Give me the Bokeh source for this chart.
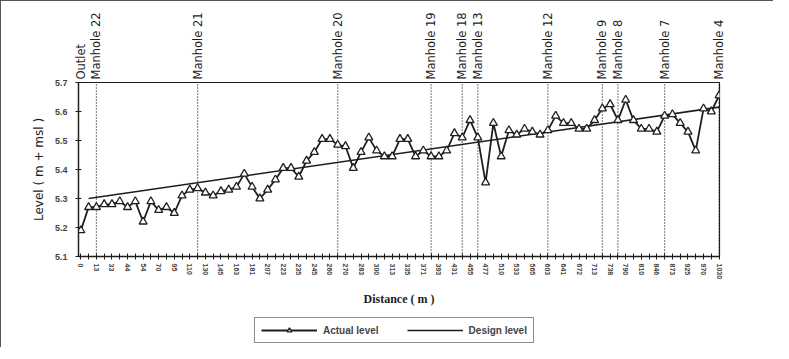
from bokeh.plotting import figure
from bokeh.layouts import column
from bokeh.models import (ColumnDataSource, Range1d, FixedTicker, Legend, LegendItem,
                          LinearAxis)
from bokeh.embed import file_html
from bokeh.resources import INLINE

# ---- data ----
actual_level = [5.19, 5.27, 5.27, 5.28, 5.28, 5.29, 5.27, 5.29, 5.22, 5.29,
                5.26, 5.27, 5.25, 5.31, 5.33, 5.335, 5.32, 5.31, 5.325, 5.33,
                5.34, 5.385, 5.34, 5.30, 5.33, 5.365, 5.405, 5.405, 5.375, 5.43,
                5.46, 5.505, 5.505, 5.485, 5.48, 5.405, 5.46, 5.51, 5.465, 5.445,
                5.445, 5.505, 5.505, 5.445, 5.465, 5.445, 5.445, 5.465, 5.525, 5.51,
                5.57, 5.51, 5.355, 5.56, 5.445, 5.535, 5.52, 5.54, 5.53, 5.52,
                5.535, 5.585, 5.56, 5.56, 5.54, 5.54, 5.57, 5.61, 5.625, 5.57,
                5.64, 5.57, 5.54, 5.54, 5.53, 5.585, 5.59, 5.56, 5.53, 5.465,
                5.61, 5.60, 5.655]
point_index = list(range(len(actual_level)))

# distance tick labels (shown at every second point)
distance_labels = ["0", "13", "33", "44", "54", "70", "95", "110", "130", "145",
                   "163", "181", "207", "223", "235", "245", "260", "270", "283", "300",
                   "313", "335", "371", "393", "431", "455", "477", "510", "533", "565",
                   "603", "641", "672", "713", "738", "790", "810", "846", "873", "925",
                   "970", "1030"]

design_index = [1, 82]
design_level = [5.30, 5.615]

manhole_names = ["Manhole 22", "Manhole 21", "Manhole 20", "Manhole 19", "Manhole 18",
                 "Manhole 13", "Manhole 12", "Manhole 9", "Manhole 8", "Manhole 7",
                 "Manhole 4"]
manhole_index = [2, 15, 33, 45, 49, 51, 60, 67, 69, 75, 82]
outlet_name = "Outlet"
outlet_index = 0

y_ticks = [5.1, 5.2, 5.3, 5.4, 5.5, 5.6, 5.7]

INK = "#1e1e1e"

p = figure(width=772, height=308, output_backend="svg", toolbar_location=None,
           x_range=Range1d(-0.3, 82.05), y_range=Range1d(5.1, 5.7),
           min_border_left=77, min_border_right=54, min_border_top=81,
           min_border_bottom=51, background_fill_color="white",
           border_fill_color="white")
p.grid.visible = False
p.outline_line_color = INK
p.outline_line_width = 1.2

# manhole lines
mh_src = ColumnDataSource(dict(x=manhole_index, name=manhole_names))
p.segment(x0="x", y0=5.1, x1="x", y1=5.7, source=mh_src, line_color=INK,
          line_width=1.2, line_dash="1 2")

# design level
design_src = ColumnDataSource(dict(x=design_index, y=design_level))
design_r = p.line("x", "y", source=design_src, line_color=INK, line_width=1.6)

# actual level
act_src = ColumnDataSource(dict(x=point_index, y=actual_level))
act_line = p.line("x", "y", source=act_src, line_color=INK, line_width=1.8)
act_pts = p.scatter("x", "y", source=act_src, marker="triangle", size=8,
                    line_color=INK, line_width=1.3, fill_color="white")

# manhole names above the plot (as an axis so they are not clipped)
top_ticks = [outlet_index] + manhole_index
top_names = [outlet_name] + manhole_names
top_axis = LinearAxis(ticker=FixedTicker(ticks=top_ticks),
                      major_label_overrides={t: n for t, n in zip(top_ticks, top_names)},
                      major_label_orientation="vertical",
                      major_label_text_font="DejaVu Sans",
                      major_label_text_font_size="11.5px",
                      major_label_text_color=INK,
                      major_label_standoff=3,
                      major_tick_in=0, major_tick_out=0,
                      minor_tick_line_color=None,
                      axis_line_color=None)
p.add_layout(top_axis, "above")

# bottom x axis
xa = p.below[0]
xa.ticker = FixedTicker(ticks=point_index)
overrides = {i: "" for i in point_index}
for k, lab in enumerate(distance_labels):
    overrides[2 * k] = lab
xa.major_label_overrides = overrides
xa.major_label_orientation = "vertical"
xa.major_label_text_font = "Liberation Sans"
xa.major_label_text_font_style = "bold"
xa.major_label_text_font_size = "7px"
xa.major_label_standoff = 4
xa.major_tick_in = 3
xa.major_tick_out = 3
xa.minor_tick_line_color = None
xa.axis_line_color = INK
xa.major_tick_line_color = INK
xa.axis_line_width = 1.3
xa.axis_label = "Distance ( m )"
xa.axis_label_text_font = "Liberation Serif"
xa.axis_label_text_font_style = "bold"
xa.axis_label_text_font_size = "12px"
xa.axis_label_standoff = 10
xa.axis_label_text_color = INK

ya = p.left[0]
ya.ticker = FixedTicker(ticks=y_ticks)
ya.major_label_overrides = {t: f"{t:.1f}" for t in y_ticks}
ya.major_label_text_font = "Liberation Sans"
ya.major_label_text_font_style = "bold"
ya.major_label_text_font_size = "9px"
ya.major_label_standoff = 8
ya.major_tick_in = 3
ya.major_tick_out = 3
ya.minor_tick_line_color = None
ya.axis_line_color = INK
ya.major_tick_line_color = INK
ya.axis_line_width = 1.3
ya.axis_label = "Level ( m + msl )"
ya.axis_label_text_font = "DejaVu Sans"
ya.axis_label_text_font_style = "normal"
ya.axis_label_text_font_size = "12px"
ya.axis_label_standoff = 6
ya.axis_label_text_color = INK

# legend in its own strip below the chart (its glyphs fall outside this strip's ranges)
lg = figure(width=772, height=38, output_backend="svg", toolbar_location=None,
            x_range=Range1d(-100, -99), y_range=Range1d(0, 1),
            min_border_left=0, min_border_right=0, min_border_top=0,
            min_border_bottom=0, outline_line_color=None)
lg.axis.visible = False
lg.grid.visible = False
lg_act_line = lg.line("x", "y", source=act_src, line_color=INK, line_width=1.8)
lg_act_pts = lg.scatter("x", "y", source=act_src, marker="triangle", size=8,
                        line_color=INK, line_width=1.3, fill_color="white")
lg_design = lg.line("x", "y", source=design_src, line_color=INK, line_width=1.6)
legend = Legend(items=[LegendItem(label="Actual level", renderers=[lg_act_line, lg_act_pts]),
                       LegendItem(label="Design level", renderers=[lg_design])],
                orientation="horizontal", location=(176, 4),
                border_line_color=INK, border_line_width=1.3,
                label_text_font="Liberation Sans", label_text_font_style="bold",
                label_text_font_size="10px", glyph_width=56, glyph_height=12,
                spacing=28, padding=6, margin=0, label_standoff=6)
lg.add_layout(legend, "center")

layout = column(p, lg, spacing=0,
                styles={"border-left": "1px solid #555", "border-top": "1px solid #555"})
open("out.html", "w").write(file_html(layout, INLINE))
